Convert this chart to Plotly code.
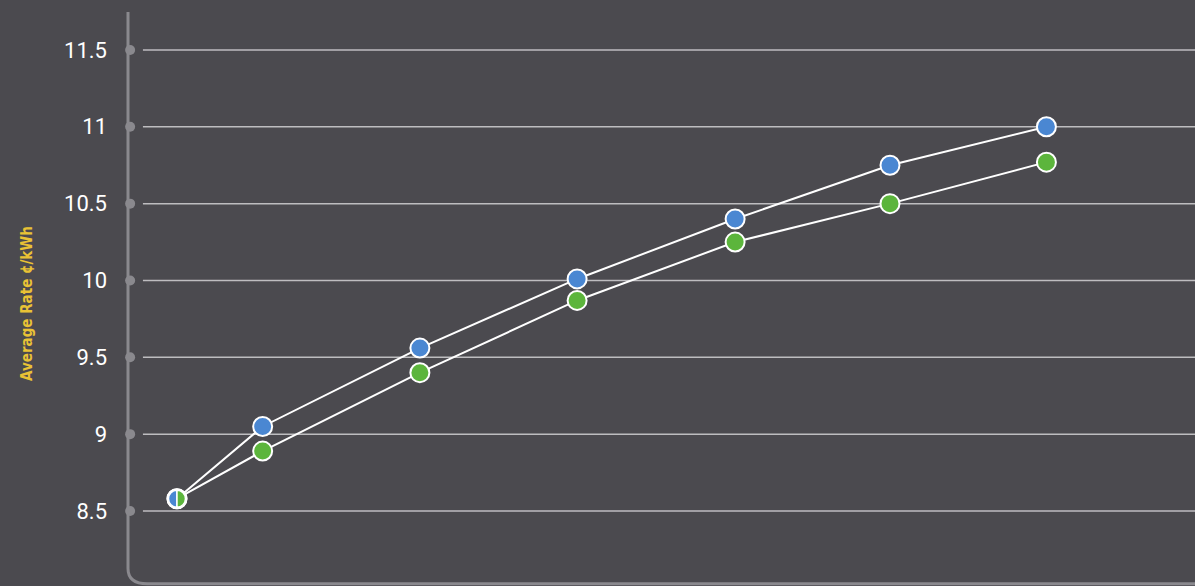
import plotly.graph_objects as go

# Data (x positions; no x labels shown)
x_pos = [0, 1.09, 3.09, 5.09, 7.1, 9.07, 11.06]
series_blue = [8.58, 9.05, 9.56, 10.01, 10.40, 10.75, 11.0]
series_green = [8.58, 8.89, 9.40, 9.87, 10.25, 10.50, 10.77]
y_ticks = [8.5, 9, 9.5, 10, 10.5, 11, 11.5]
y_tick_labels = ["8.5", "9", "9.5", "10", "10.5", "11", "11.5"]

BG = "#4b4a4f"
AXIS = "#8a898e"
GRID = "#bebdc0"
BLUE = "#4a87d2"
GREEN = "#5cb53c"
YELLOW = "#e9c235"

fig = go.Figure()

for ys, col in [(series_blue, BLUE), (series_green, GREEN)]:
    fig.add_trace(go.Scatter(
        x=x_pos, y=ys, mode="lines+markers",
        line=dict(color="white", width=2),
        marker=dict(size=19, color=col, line=dict(color="white", width=2)),
        hoverinfo="skip", showlegend=False, cliponaxis=False,
    ))

shapes = []
for t in y_ticks:
    shapes.append(dict(type="line", xref="paper", yref="y", x0=0.014, x1=1, y0=t, y1=t,
                       line=dict(color=GRID, width=1.5), layer="below"))
    shapes.append(dict(type="circle", xref="paper", yref="y", xsizemode="pixel", ysizemode="pixel",
                       xanchor=0.002, yanchor=t, x0=-5, x1=5, y0=-5, y1=5,
                       fillcolor=AXIS, line=dict(width=0), layer="below"))

shapes.append(dict(type="path", xref="paper", yref="paper",
                   path="M 0,0.9795 L 0,0.030 Q 0,0.004 0.018,0.004 L 1,0.004",
                   line=dict(color=AXIS, width=3), layer="below"))

# half blue / half green first point
k = 0.5523
r = 8.5
right_half = f"M 0,{-r} C {k*r},{-r} {r},{-k*r} {r},0 C {r},{k*r} {k*r},{r} 0,{r} Z"
left_half = f"M 0,{-r} C {-k*r},{-r} {-r},{-k*r} {-r},0 C {-r},{k*r} {-k*r},{r} 0,{r} Z"
for pth, col, yv in [(left_half, BLUE, series_blue[0]), (right_half, GREEN, series_green[0])]:
    shapes.append(dict(type="path", xref="x", yref="y", xsizemode="pixel", ysizemode="pixel",
                       xanchor=x_pos[0], yanchor=yv, path=pth,
                       fillcolor=col, line=dict(color="white", width=1.5), layer="above"))

fig.update_layout(
    width=1195, height=586,
    paper_bgcolor=BG, plot_bgcolor=BG,
    margin=dict(l=128, r=0, t=0, b=0),
    shapes=shapes,
    xaxis=dict(range=[-0.623, 12.95], visible=False, showgrid=False, zeroline=False),
    yaxis=dict(range=[8.012, 11.825], tickvals=y_ticks, ticktext=y_tick_labels,
               showgrid=False, zeroline=False, showline=False, ticks="",
               ticklabelstandoff=20,
               tickfont=dict(family="Roboto, Open Sans, sans-serif", size=22, color="white")),
    annotations=[dict(text="<b>Average Rate ¢/kWh</b>", xref="paper", yref="paper",
                      x=-0.0947, y=0.483, xanchor="center", yanchor="middle",
                      textangle=-90, showarrow=False,
                      font=dict(family="DejaVu Sans Condensed, Liberation Sans Narrow, sans-serif",
                                size=15, color=YELLOW))],
)

fig.write_html("out.html", config={"displayModeBar": False},
               post_script=f"document.body.style.margin='0';document.body.style.background='{BG}';")
